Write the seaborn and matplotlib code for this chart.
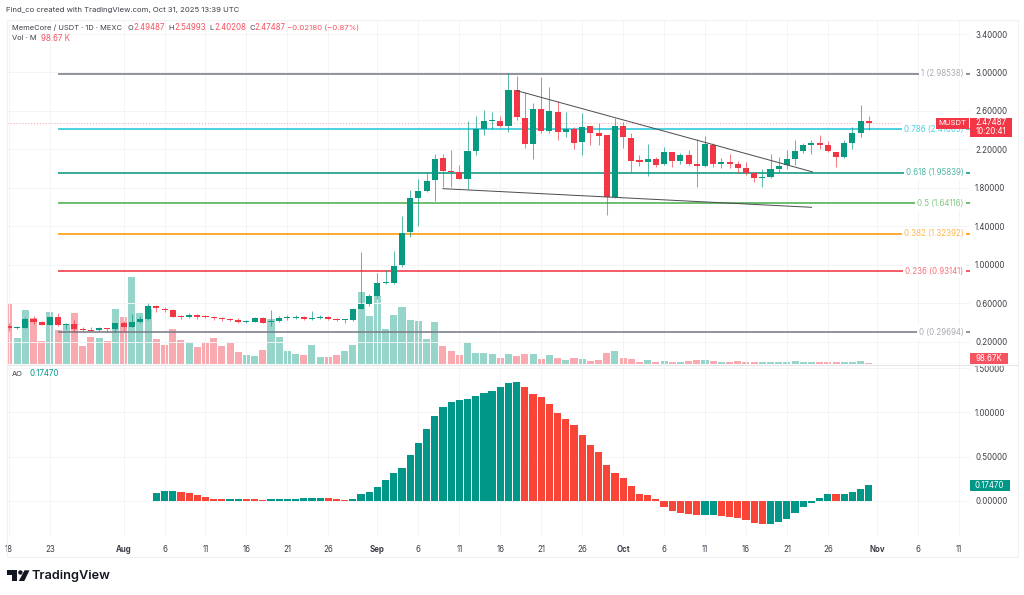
import numpy as np
import pandas as pd
import matplotlib
matplotlib.use("Agg")
import matplotlib.pyplot as plt
import seaborn as sns
from matplotlib.patches import Rectangle, Circle, Polygon

# daily MemeCore / USDT candles, Jul 18 - Oct 31 2025
opens = [
    .359, .338, .345, .435, .404, .376, .452, .372, .379, .331, .320, .317, .341, .331,
    .390, .355, .400, .435, .574, .542, .529, .463, .459, .480, .466, .456, .442, .435,
    .421, .404, .407, .449, .400, .411, .442, .449, .452, .431, .445, .456, .438, .424,
    .424, .542, .588,
    .674, .806, .810, .993, 1.337, 1.694, 1.763, 1.881, 2.110, 1.971, 1.961, 1.895, 2.187,
    2.412, 2.495, 2.495, 2.440, 2.814, 2.523, 2.259, 2.617, 2.391, 2.585, 2.384, 2.412,
    2.273, 2.440, 2.370, 2.346, 1.701,
    2.440, 2.322, 2.086, 2.069, 2.096, 2.044, 2.169, 2.076, 2.145, 2.051, 2.024, 2.249,
    2.051, 2.065, 2.044, 2.006, 1.954, 1.899, 1.913, 1.999, 2.034, 2.103, 2.187, 2.249,
    2.270, 2.242, 2.169, 2.121, 2.270, 2.370, 2.49487,
]
highs = [
    .390, .359, .452, .466, .414, .466, .494, .390, .424, .355, .355, .348, .345, .397,
    .418, .484, .470, .598, .584, .556, .536, .473, .494, .490, .477, .470, .452, .449,
    .442, .424, .456, .452, .529, .463, .477, .473, .463, .522, .477, .466, .449, .438,
    .553, 1.136, .692,
    .910, .945, 1.143, 1.507, 1.777, 1.888, 1.951, 2.152, 2.152, 2.193, 2.037, 2.495, 2.547,
    2.610, 2.585, 2.547, 2.991, 2.967, 2.800, 2.686, 2.950, 2.846, 2.707, 2.592, 2.436,
    2.575, 2.443, 2.471, 2.350, 2.523,
    2.488, 2.367, 2.141, 2.252, 2.124, 2.228, 2.176, 2.159, 2.193, 2.304, 2.339, 2.263,
    2.107, 2.148, 2.082, 2.065, 1.968, 1.992, 2.148, 2.124, 2.193, 2.298, 2.270, 2.298,
    2.350, 2.284, 2.173, 2.298, 2.429, 2.658, 2.54993,
]
lows = [
    .313, .327, .338, .383, .369, .369, .366, .327, .303, .310, .310, .310, .300, .300,
    .303, .348, .390, .428, .511, .504, .452, .435, .449, .438, .449, .428, .418, .411,
    .390, .393, .404, .393, .362, .404, .428, .435, .424, .421, .431, .428, .411, .397,
    .418, .536, .570,
    .640, .799, .803, .976, 1.292, 1.406, 1.753, 1.666, 1.805, 1.812, 1.888, 1.784, 2.141,
    2.353, 2.412, 2.429, 2.384, 2.506, 2.218, 2.103, 2.374, 2.367, 2.298, 2.325, 2.207,
    2.141, 2.246, 2.246, 1.517, 1.691,
    2.211, 1.968, 2.027, 1.926, 2.013, 2.034, 2.017, 2.048, 2.034, 1.812, 2.013, 2.013,
    2.003, 2.006, 1.951, 1.933, 1.864, 1.805, 1.899, 1.958, 1.992, 2.037, 2.159, 2.148,
    2.207, 2.173, 2.020, 2.107, 2.200, 2.325, 2.40208,
]
closes = [
    .341, .348, .438, .404, .376, .452, .372, .379, .327, .317, .313, .338, .334, .390,
    .352, .404, .435, .574, .546, .529, .459, .452, .480, .456, .456, .442, .431, .421,
    .404, .411, .449, .397, .414, .442, .456, .456, .431, .445, .456, .438, .421, .431,
    .542, .588, .674,
    .806, .816, .990, 1.333, 1.691, 1.763, 1.874, 2.100, 1.971, 1.961, 1.888, 2.180, 2.412,
    2.492, 2.502, 2.440, 2.818, 2.533, 2.252, 2.617, 2.395, 2.596, 2.384, 2.412, 2.270,
    2.429, 2.367, 2.343, 1.701, 2.443,
    2.329, 2.082, 2.069, 2.096, 2.041, 2.169, 2.076, 2.145, 2.051, 2.024, 2.252, 2.048,
    2.065, 2.048, 2.010, 1.954, 1.899, 1.913, 1.992, 2.030, 2.096, 2.187, 2.249, 2.266,
    2.242, 2.180, 2.121, 2.266, 2.367, 2.492, 2.47487,
]
# thousands of MUSDT
volumes = [
    4441, 1900, 3997, 3380, 1727, 3824, 2516, 2960, 3750, 1332, 2023, 1900, 1702, 4095,
    3454, 6414, 3750, 4046, 1826, 1382, 2615, 1801, 1628, 1258, 1530, 1949, 1332, 1530,
    888, 641, 567, 1036, 3306, 2023, 937, 740, 641, 1382, 543, 493, 666, 962,
    1406, 5304, 3528,
    5057, 2590, 3602, 4194, 3256, 3182, 1875, 3108, 1332, 937, 666, 1579, 814,
    839, 715, 444, 715, 592, 715, 715, 370, 641, 419, 271, 419,
    345, 222, 271, 789, 987,
    419, 370, 148, 321, 173, 197, 123, 148, 197, 271, 321, 222,
    148, 173, 197, 148, 148, 123, 173, 148, 148, 222, 148, 148,
    123, 123, 173, 148, 148, 222, 98.67,
]
# awesome oscillator, Aug 5 - Oct 31
ao_values = [
    .091, .109, .110, .102, .083, .060, .038, .023, .015, .016, .019, .015, .014, .011,
    .015, .016, .023, .024, .026, .030, .031, .026, .019, .011, .015, .076, .102,
    .159, .234, .310, .366, .513, .653, .812, .959, 1.065, 1.117, 1.140, 1.148, 1.182,
    1.219, 1.246, 1.291, 1.329, 1.340, 1.287, 1.208, 1.178, 1.099, .993, .925, .853,
    .740, .630, .547, .400, .310,
    .253, .166, .076, .064, .019, -.072, -.117, -.140, -.151, -.166, -.165, -.162, -.177,
    -.185, -.193, -.223, -.249, -.268, -.264, -.245, -.211, -.143, -.072, -.026, .034,
    .072, .071, .076, .094, .132, .1747,
]

fib_levels = [2.98538, 2.41005, 1.95839, 1.64116, 1.32392, 0.93141, 0.29694]
fib_names = ["1", "0.786", "0.618", "0.5", "0.382", "0.236", "0"]
fib_colors = ["#787b86", "#26c6da", "#089981", "#4caf50", "#ff9800", "#f23645", "#787b86"]
fib_text = ["#a8abb2", "#4dd0e1", "#4db8a6", "#82c785", "#ffb74d", "#f7737d", "#a8abb2"]

trend_upper_days = [48.0, 84.15]
trend_upper_prices = [2.811, 1.965]
trend_lower_days = [38.97, 84.03]
trend_lower_prices = [1.791, 1.597]

price_ticks = [3.4, 3.0, 2.6, 2.2, 1.8, 1.4, 1.0, 0.6, 0.2]
ao_ticks = [1.5, 1.0, 0.5, 0.0]
date_ticks = ["07-18", "07-23", "08-01", "08-06", "08-11", "08-16", "08-21", "08-26",
              "09-01", "09-06", "09-11", "09-16", "09-21", "09-26", "10-01", "10-06",
              "10-11", "10-16", "10-21", "10-26", "11-01", "11-06", "11-11"]
date_labels = ["18", "23", "Aug", "6", "11", "16", "21", "26", "Sep", "6", "11", "16",
               "21", "26", "Oct", "6", "11", "16", "21", "26", "Nov", "6", "11"]

UP = "#089981"
DOWN = "#f23645"
AO_UP = "#009688"
AO_DOWN = "#f94438"
GRID = "#f3f4f6"
TXT = "#3d3f47"
FONT = "Inter"
AX_SIZE = 5.7
LEG_SIZE = 5.4

sns.set_theme(style="white")
plt.rcParams["font.family"] = [FONT, "DejaVu Sans"]

W, H = 1024, 595
fig = plt.figure(figsize=(W / 100, H / 100), dpi=100)


def pane(left, top, right, bottom):
    return fig.add_axes([left / W, 1 - bottom / H, (right - left) / W, (bottom - top) / H])


def day_no(strings):
    stamps = pd.to_datetime(["2025-" + s for s in strings])
    return (stamps - pd.Timestamp("2025-08-01")).days.to_numpy()


candle_dates = pd.date_range("2025-07-18", "2025-10-31")
candles = pd.DataFrame({"date": candle_dates, "open": opens, "high": highs, "low": lows,
                        "close": closes, "volume": volumes})
candles["day"] = (candles["date"] - pd.Timestamp("2025-08-01")).dt.days
candles["rising"] = candles["close"] >= candles["open"]

ao = pd.DataFrame({"date": pd.date_range("2025-08-05", "2025-10-31"), "value": ao_values})
ao["day"] = (ao["date"] - pd.Timestamp("2025-08-01")).dt.days
ao["rising"] = ao["value"].diff().fillna(1) >= 0

XLIM = (-14.3, 103.3)
tick_days = day_no(date_ticks)

# volume sits under the price pane
ax_vol = pane(6.5, 20, 969.5, 365)
ax_vol.set_xlim(*XLIM)
sns.barplot(data=candles, x="day", y="volume", hue="rising", palette={True: UP, False: DOWN},
            native_scale=True, dodge=False, width=0.86, saturation=1, alpha=0.42, errorbar=None,
            legend=False, linewidth=0, ax=ax_vol)
ax_vol.set_xlim(*XLIM)
ax_vol.set_ylim(-75, 25500)
ax_vol.axis("off")

ax = pane(6.5, 20, 969.5, 365)
ax.patch.set_visible(False)
ax.set_xlim(*XLIM)
ax.set_ylim(-0.0437, 3.546)
ax.yaxis.tick_right()
ax.set_yticks(price_ticks)
ax.set_yticklabels([f"{t:.5f}" for t in price_ticks], fontsize=AX_SIZE, color=TXT)
ax.set_xticks(tick_days)
ax.set_xticklabels([])
ax.tick_params(axis="both", length=0, pad=4)
ax.grid(True, color=GRID, lw=0.7)
ax.set_axisbelow(True)
for side in ax.spines.values():
    side.set_visible(False)

for level, color in zip(fib_levels, fib_colors):
    ax.plot([-8, XLIM[1]], [level, level], color=color, lw=1.15, zorder=1.5, solid_capstyle="butt")
ax.axhline(candles["close"].iloc[-1], color=DOWN, lw=0.8, ls=":", alpha=0.4, zorder=1.4)

body_colors = np.where(candles["rising"], UP, DOWN)
ax.vlines(candles["day"], candles["low"], candles["high"], colors=body_colors, lw=0.75,
          alpha=0.65, zorder=2)
ax.bar(candles["day"], (candles["close"] - candles["open"]).abs(),
       bottom=candles[["open", "close"]].min(axis=1), width=0.74, color=body_colors,
       linewidth=0, zorder=3)

ax.plot(trend_upper_days, trend_upper_prices, color="#4a4a50", lw=0.7, zorder=4)
ax.plot(trend_lower_days, trend_lower_prices, color="#4a4a50", lw=0.7, zorder=4)

# awesome oscillator pane
ax_ao = pane(6.5, 365, 969.5, 537)
sns.barplot(data=ao, x="day", y="value", hue="rising", palette={True: AO_UP, False: AO_DOWN},
            native_scale=True, dodge=False, width=0.88, saturation=1, errorbar=None,
            legend=False, linewidth=0, ax=ax_ao)
ax_ao.set_xlim(*XLIM)
ax_ao.set_ylim(-0.411, 1.537)
ax_ao.yaxis.tick_right()
ax_ao.set_yticks(ao_ticks)
ax_ao.set_yticklabels([f"{t:.5f}" for t in ao_ticks], fontsize=AX_SIZE, color=TXT)
ax_ao.set_xticks(tick_days)
ax_ao.set_xticklabels(date_labels, fontsize=AX_SIZE, color=TXT)
for label in ax_ao.get_xticklabels():
    if label.get_text() in ("Aug", "Sep", "Oct", "Nov"):
        label.set_fontweight("bold")
ax_ao.tick_params(axis="y", length=0, pad=4)
ax_ao.tick_params(axis="x", length=0, pad=5.5)
ax_ao.set_xlabel("")
ax_ao.set_ylabel("")
ax_ao.grid(True, color=GRID, lw=0.7)
ax_ao.set_axisbelow(True)
for side in ax_ao.spines.values():
    side.set_visible(False)

# overlay in pixel coords for frame, legends, tags and the logo
ov = fig.add_axes([0, 0, 1, 1], zorder=10)
ov.set_xlim(0, W)
ov.set_ylim(H, 0)
ov.axis("off")
ov.patch.set_visible(False)

ov.add_patch(Rectangle((6.5, 20), 1011, 537, fill=False, ec="#f0f1f3", lw=0.8))
ov.plot([6.5, 1017.5], [365, 365], color="#e6e7ea", lw=0.8)


def txt(x, y, s, color=TXT, size=LEG_SIZE, **kw):
    kw.setdefault("va", "center")
    return ov.text(x, y, s, color=color, fontsize=size, **kw)


txt(6.5, 10, "Find_co created with TradingView.com, Oct 31, 2025 13:39 UTC", size=5.55)

txt(12, 27.5, "MemeCore / USDT · 1D · MEXC")
RED_TXT = "#f7525f"
for x, letter, val in [(127.7, "O", "2.49487"), (168.5, "H", "2.54993"),
                       (209, "L", "2.40208"), (249, "C", "2.47487")]:
    txt(x, 27.5, letter)
    txt(x + 5.7, 27.5, val, color=RED_TXT, size=5.7)
txt(287, 27.5, "−0.02180 (−0.87%)", color=RED_TXT, size=5.6)
txt(12, 38.5, "Vol · M")
txt(41, 38.5, "98.67 K", color=RED_TXT, size=5.7)
txt(12, 374, "AO")
txt(29, 374, "0.17470", color=AO_UP, size=5.7)

# fib labels, a white box cuts the line like the original
for level, name, color in zip(fib_levels, fib_names, fib_text):
    y_px = 72.5 + (3 - level) * 96.1
    txt(963.5, y_px, f"{name} ({level:.5f})", color=color, size=AX_SIZE, ha="right",
        bbox=dict(fc="white", ec="none", pad=1.6))

# right side tags, over the fib labels
ov.add_patch(Rectangle((936, 117.5), 32.5, 11, fc=DOWN, ec="none", zorder=5))
txt(952.2, 123.2, "MUSDT", color="white", size=5.6, ha="center", zorder=6)
ov.add_patch(Rectangle((969.5, 117.5), 42, 19.5, fc=DOWN, ec="none", zorder=5))
txt(990.5, 122.8, "2.47487", color="white", size=AX_SIZE, ha="center", zorder=6)
txt(990.5, 131.8, "10:20:41", color="white", size=AX_SIZE, ha="center", zorder=6)
ov.add_patch(Rectangle((969.5, 353), 38, 11, fc=RED_TXT, ec="none"))
txt(988.5, 358.6, "98.67K", color="white", size=AX_SIZE, ha="center")
ov.add_patch(Rectangle((969.5, 480), 40, 11, fc=AO_UP, ec="none"))
txt(989.5, 485.6, "0.17470", color="white", size=AX_SIZE, ha="center")

# logo mark and word
LOGO = "#131722"
ov.add_patch(Polygon([(7.3, 570.3), (17.3, 570.3), (17.3, 581), (12.3, 581), (12.3, 574.8),
                      (7.3, 574.8)], fc=LOGO, ec="none"))
ov.add_patch(Circle((20.4, 572.5), 2.2, fc=LOGO, ec="none"))
ov.add_patch(Polygon([(24.5, 570.3), (29.5, 570.3), (24.3, 581), (18.8, 581)], fc=LOGO, ec="none"))
txt(32, 575.8, "TradingView", color=LOGO, size=9.2, fontweight="semibold")

fig.savefig("out.png", dpi=100, facecolor="white")
